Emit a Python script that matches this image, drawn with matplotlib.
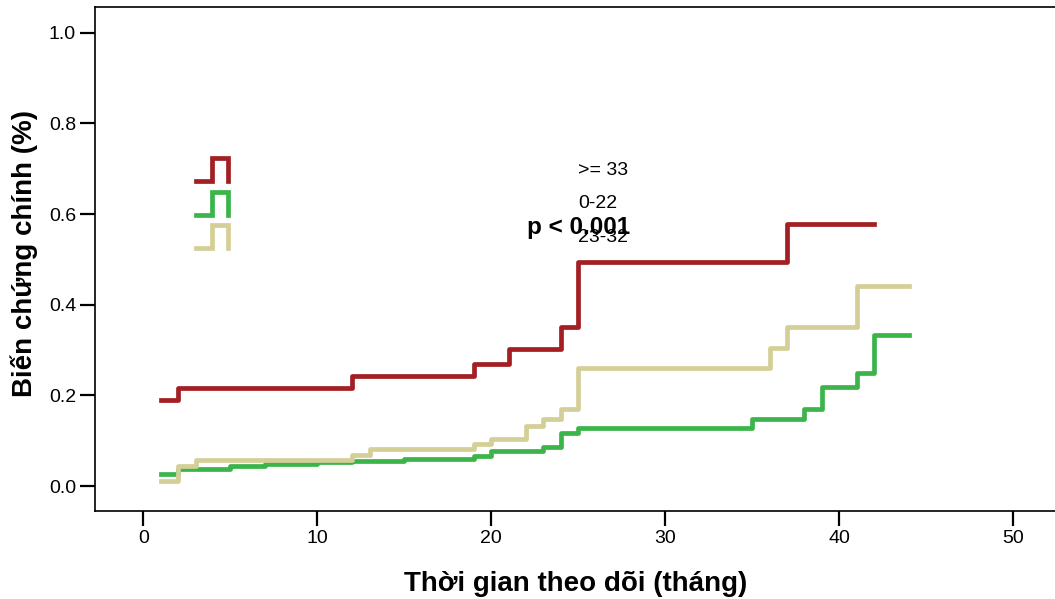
import matplotlib
matplotlib.use('Agg')
import matplotlib.pyplot as plt

plt.rcParams['font.family'] = ['Liberation Sans', 'DejaVu Sans']

# cumulative incidence step data
t_high = [1, 2, 12, 19, 21, 24, 25, 37, 42]
y_high = [0.190, 0.216, 0.243, 0.270, 0.302, 0.350, 0.494, 0.578, 0.578]

t_low = [1, 2, 5, 7, 10, 12, 15, 19, 20, 23, 24, 25, 35, 38, 39, 41, 42, 44]
y_low = [0.027, 0.037, 0.044, 0.048, 0.053, 0.055, 0.060, 0.066, 0.077, 0.086,
         0.116, 0.127, 0.149, 0.169, 0.218, 0.250, 0.333, 0.333]

t_mid = [1, 2, 3, 12, 13, 19, 20, 22, 23, 24, 25, 36, 37, 41, 44]
y_mid = [0.011, 0.045, 0.057, 0.069, 0.081, 0.093, 0.104, 0.132, 0.149,
         0.171, 0.260, 0.304, 0.350, 0.441, 0.441]

groups = ['>= 33', '0-22', '23-32']
colors = ['#A31F24', '#3BB54A', '#D3CF97']

x_ticks = [0, 10, 20, 30, 40, 50]
y_ticks = [0.0, 0.2, 0.4, 0.6, 0.8, 1.0]

fig = plt.figure(figsize=(10.55, 5.99), dpi=100)
ax = fig.add_axes([0.0905, 0.147, 0.9095, 0.8405])

lw = 3.4
ax.step(t_low, y_low, where='post', color=colors[1], lw=lw)
ax.step(t_mid, y_mid, where='post', color=colors[2], lw=lw)
ax.step(t_high, y_high, where='post', color=colors[0], lw=lw)

ax.set_xlim(-2.75, 52.4)
ax.set_ylim(-0.055, 1.056)
ax.set_xticks(x_ticks)
ax.set_yticks(y_ticks)
ax.set_yticklabels(['%.1f' % v for v in y_ticks])

ax.spines['right'].set_visible(False)
for s in ['left', 'top', 'bottom']:
    ax.spines[s].set_linewidth(1.2)
ax.tick_params(direction='out', length=11, width=1.6, labelsize=14, pad=3)

ax.set_xlabel('Thời gian theo dõi (tháng)', fontsize=20, fontweight='bold', labelpad=17)
ax.set_ylabel('Biến chứng chính (%)', fontsize=20, fontweight='bold')
ax.yaxis.set_label_coords(-0.06, 0.512)

# legend: small step icons on the left, labels further right
icon_x = [0.1047, 0.1214, 0.1214, 0.138, 0.138]
for i, (g, c) in enumerate(zip(groups, colors)):
    base = 0.6554 - i * 0.0666
    top = base + 0.0457
    ax.plot(icon_x, [base, base, top, top, base], color=c, lw=lw,
            transform=ax.transAxes, solid_joinstyle='miter', clip_on=False)
    ax.text(0.503, 0.677 - i * 0.0665, g, transform=ax.transAxes,
            fontsize=14, ha='left', va='center')

ax.text(25, 0.57, 'p < 0.001', fontsize=17.5, fontweight='bold',
        ha='center', va='center')

fig.savefig('out.png', dpi=100)
